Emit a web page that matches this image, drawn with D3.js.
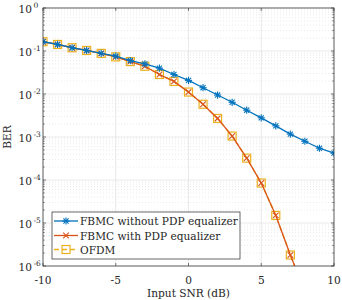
<!DOCTYPE html>
<html>
<head>
<meta charset="utf-8">
<script src="https://cdn.jsdelivr.net/npm/d3@7"></script>
<style>
body { margin: 0; background: #fff; }
svg text { font-family: "DejaVu Serif", "Liberation Serif", "Noto Serif", serif; }
</style>
</head>
<body>
<div id="chart"></div>
<script>
// data
var snr = [-10, -9, -8, -7, -6, -5, -4, -3, -2, -1, 0, 1, 2, 3, 4, 5, 6, 7, 8, 9, 10];
var berNoPdp = [0.164, 0.142, 0.119, 0.103, 0.088, 0.076, 0.060, 0.050, 0.040, 0.0284, 0.0207,
  0.0140, 0.00946, 0.00642, 0.00420, 0.00279, 0.00182, 0.00117, 0.000796, 0.000548, 0.000421];
var snrEq = [-10, -9, -8, -7, -6, -5, -4, -3, -2, -1, 0, 1, 2, 3, 4, 5, 6, 7, 8];
var berPdp = [0.164, 0.142, 0.119, 0.103, 0.088, 0.073, 0.0567, 0.0442, 0.0284, 0.0196, 0.0111,
  0.00577, 0.0027, 0.00105, 0.000322, 0.000085, 0.000015, 0.0000018, 0.00000025];
var berOfdm = [0.164, 0.142, 0.119, 0.103, 0.088, 0.073, 0.0567, 0.0442, 0.0284, 0.0196, 0.0111,
  0.00577, 0.0027, 0.00105, 0.000322, 0.000085, 0.000015, 0.0000018, 0.00000025];
var xTicks = [-10, -5, 0, 5, 10];
var yExps = [0, -1, -2, -3, -4, -5, -6];
var legendNames = ["FBMC without PDP equalizer", "FBMC with PDP equalizer", "OFDM"];

var w = 342, h = 300;
// plot box (note: "top" is taken by window.top)
var pLeft = 43, pRight = 334, pTop = 8, pBottom = 266;
var ink = "#262626";
var fs = "10.6px";

var svg = d3.select("#chart").append("svg")
  .attr("width", w)
  .attr("height", h);

var x = d3.scaleLinear().domain([-10, 10]).range([pLeft, pRight]);
var y = d3.scaleLog().domain([1e-6, 1]).range([pBottom, pTop]);

// minor values for the log axis
var minor = [];
for (var e = -6; e < 0; e++) {
  for (var k = 2; k <= 9; k++) minor.push(k * Math.pow(10, e));
}

// grid
svg.selectAll(".minorgrid").data(minor).enter().append("line")
  .attr("x1", pLeft).attr("x2", pRight)
  .attr("y1", function(d) { return y(d); })
  .attr("y2", function(d) { return y(d); })
  .attr("stroke", "#dcdcdc").attr("stroke-width", 0.6)
  .attr("stroke-dasharray", "1,2");
svg.selectAll(".ygrid").data(yExps).enter().append("line")
  .attr("x1", pLeft).attr("x2", pRight)
  .attr("y1", function(d) { return y(Math.pow(10, d)); })
  .attr("y2", function(d) { return y(Math.pow(10, d)); })
  .attr("stroke", "#e3e3e3").attr("stroke-width", 0.8);
svg.selectAll(".xgrid").data(xTicks).enter().append("line")
  .attr("y1", pTop).attr("y2", pBottom)
  .attr("x1", function(d) { return x(d); })
  .attr("x2", function(d) { return x(d); })
  .attr("stroke", "#e3e3e3").attr("stroke-width", 0.8);

// ticks inside, on all four sides
xTicks.forEach(function(d) {
  svg.append("line").attr("x1", x(d)).attr("x2", x(d)).attr("y1", pBottom).attr("y2", pBottom - 3).attr("stroke", ink).attr("stroke-width", 0.6);
  svg.append("line").attr("x1", x(d)).attr("x2", x(d)).attr("y1", pTop).attr("y2", pTop + 3).attr("stroke", ink).attr("stroke-width", 0.6);
});
yExps.forEach(function(e) {
  var yy = y(Math.pow(10, e));
  svg.append("line").attr("x1", pLeft).attr("x2", pLeft + 3).attr("y1", yy).attr("y2", yy).attr("stroke", ink).attr("stroke-width", 0.6);
  svg.append("line").attr("x1", pRight).attr("x2", pRight - 3).attr("y1", yy).attr("y2", yy).attr("stroke", ink).attr("stroke-width", 0.6);
});
minor.forEach(function(d) {
  var yy = y(d);
  svg.append("line").attr("x1", pLeft).attr("x2", pLeft + 1.8).attr("y1", yy).attr("y2", yy).attr("stroke", ink).attr("stroke-width", 0.5);
  svg.append("line").attr("x1", pRight).attr("x2", pRight - 1.8).attr("y1", yy).attr("y2", yy).attr("stroke", ink).attr("stroke-width", 0.5);
});

// tick labels
svg.selectAll(".xlab").data(xTicks).enter().append("text")
  .attr("x", function(d) { return x(d); })
  .attr("y", 284)
  .attr("text-anchor", "middle")
  .attr("font-size", fs)
  .attr("fill", ink)
  .text(function(d) { return d; });

svg.selectAll(".ylab").data(yExps).enter().append("text")
  .attr("x", 32)
  .attr("y", function(d) { return y(Math.pow(10, d)) + 5; })
  .attr("text-anchor", "end")
  .attr("font-size", fs)
  .attr("fill", ink)
  .text("10");
svg.selectAll(".yexp").data(yExps).enter().append("text")
  .attr("x", 33.5)
  .attr("y", function(d) { return y(Math.pow(10, d)) - 0.5; })
  .attr("font-size", "7.5px")
  .attr("fill", ink)
  .text(function(d) { return d === 0 ? "0" : "-" + Math.abs(d); });

// axis titles
svg.append("text")
  .attr("x", x(0)).attr("y", 297)
  .attr("text-anchor", "middle")
  .attr("font-size", fs)
  .attr("fill", ink)
  .text("Input SNR (dB)");
svg.append("text")
  .attr("transform", "translate(11," + ((pTop + pBottom) / 2) + ") rotate(-90)")
  .attr("text-anchor", "middle")
  .attr("font-size", fs)
  .attr("fill", ink)
  .text("BER");

// clip area
svg.append("clipPath").attr("id", "clip")
  .append("rect").attr("x", pLeft).attr("y", pTop).attr("width", pRight - pLeft).attr("height", pBottom - pTop);

var blue = "#0072BD", orange = "#D95319", yellow = "#EDB120";
var line = d3.line()
  .x(function(d) { return x(d[0]); })
  .y(function(d) { return y(d[1]); });

var plot = svg.append("g").attr("clip-path", "url(#clip)");

function zipData(xs, ys) {
  return xs.map(function(v, i) { return [v, ys[i]]; });
}

var dNo = zipData(snr, berNoPdp);
var dPdp = zipData(snrEq, berPdp);
var dOfdm = zipData(snrEq, berOfdm);

// marker drawing helpers
function star(g, cx, cy, col) {
  var r = 3.6;
  for (var a = 0; a < 4; a++) {
    var ang = a * Math.PI / 4;
    g.append("line")
      .attr("x1", cx - r * Math.cos(ang)).attr("y1", cy - r * Math.sin(ang))
      .attr("x2", cx + r * Math.cos(ang)).attr("y2", cy + r * Math.sin(ang))
      .attr("stroke", col).attr("stroke-width", 1.1);
  }
}
function cross(g, cx, cy, col) {
  var r = 2.8;
  g.append("path")
    .attr("d", "M" + (cx - r) + "," + (cy - r) + "L" + (cx + r) + "," + (cy + r) +
      "M" + (cx - r) + "," + (cy + r) + "L" + (cx + r) + "," + (cy - r))
    .attr("stroke", col).attr("stroke-width", 1.1).attr("fill", "none");
}
function square(g, cx, cy, col) {
  var s = 8;
  g.append("rect")
    .attr("x", cx - s / 2).attr("y", cy - s / 2).attr("width", s).attr("height", s)
    .attr("stroke", col).attr("stroke-width", 1.2).attr("fill", "none");
}

// OFDM first (dashed yellow), then PDP (orange), then no-PDP (blue)
plot.append("path").datum(dOfdm)
  .attr("d", line).attr("fill", "none")
  .attr("stroke", yellow).attr("stroke-width", 1.4)
  .attr("stroke-dasharray", "5,3");
dOfdm.forEach(function(d) { square(plot, x(d[0]), y(d[1]), yellow); });

plot.append("path").datum(dPdp)
  .attr("d", line).attr("fill", "none")
  .attr("stroke", orange).attr("stroke-width", 1.3);
dPdp.forEach(function(d) { cross(plot, x(d[0]), y(d[1]), orange); });

plot.append("path").datum(dNo)
  .attr("d", line).attr("fill", "none")
  .attr("stroke", blue).attr("stroke-width", 1.3);
dNo.forEach(function(d) { star(plot, x(d[0]), y(d[1]), blue); });

// axes box
svg.append("rect")
  .attr("x", pLeft).attr("y", pTop).attr("width", pRight - pLeft).attr("height", pBottom - pTop)
  .attr("fill", "none").attr("stroke", ink).attr("stroke-width", 0.7);

// legend
var lg = svg.append("g");
lg.append("rect")
  .attr("x", 52).attr("y", 212).attr("width", 188).attr("height", 47)
  .attr("fill", "#fff").attr("stroke", ink).attr("stroke-width", 0.7);
var legCols = [blue, orange, yellow];
var legY = [221, 235.5, 249.5];
legendNames.forEach(function(name, i) {
  var ly = legY[i];
  var ln = lg.append("line")
    .attr("x1", 54).attr("x2", 78).attr("y1", ly).attr("y2", ly)
    .attr("stroke", legCols[i]).attr("stroke-width", 1.3);
  if (i === 2) ln.attr("stroke-dasharray", "5,3").attr("stroke-width", 1.4);
  if (i === 0) star(lg, 66, ly, blue);
  if (i === 1) cross(lg, 66, ly, orange);
  if (i === 2) square(lg, 66, ly, yellow);
  lg.append("text")
    .attr("x", 80).attr("y", ly + 4)
    .attr("font-size", fs)
    .attr("fill", ink)
    .text(name);
});
</script>
</body>
</html>
